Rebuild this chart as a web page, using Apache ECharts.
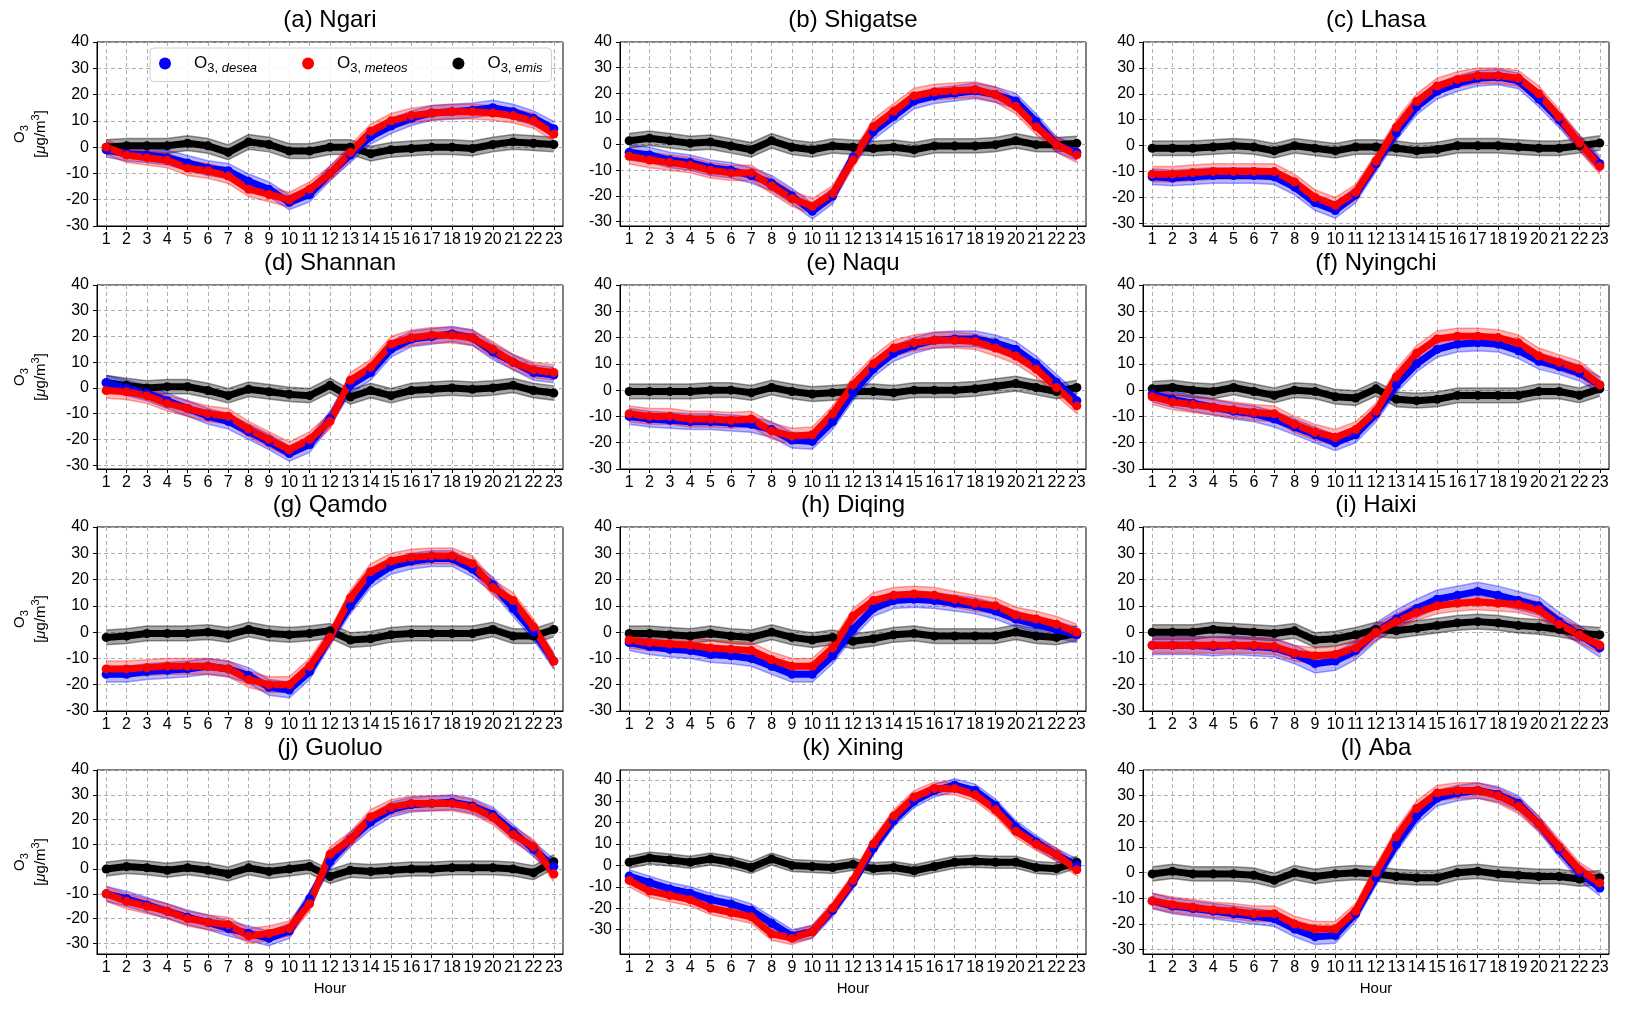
<!DOCTYPE html>
<html>
<head>
<meta charset="utf-8">
<script src="https://cdn.jsdelivr.net/npm/echarts@6/dist/echarts.min.js"></script>
<style>
html,body{margin:0;padding:0;background:#fff;}
#chart{width:1625px;height:1011px;}
</style>
</head>
<body>
<div id="chart"></div>
<script>
// ---------------- DATA ----------------
const HOURS = [1,2,3,4,5,6,7,8,9,10,11,12,13,14,15,16,17,18,19,20,21,22,23];
const Y_TICKS = [-30,-20,-10,0,10,20,30,40];
const TITLES = ['(a) Ngari','(b) Shigatse','(c) Lhasa','(d) Shannan','(e) Naqu','(f) Nyingchi',
                '(g) Qamdo','(h) Diqing','(i) Haixi','(j) Guoluo','(k) Xining','(l) Aba'];
const Y_MIN = [-30,-31.7,-31,-31.5,-30,-30,-30,-30,-30,-34.3,-41.4,-31.7];
const Y_MAX = [40,40,40,40,40,40,40,40,40,40,44.6,40];

const NGARI_DESEA  = [-1,-2.5,-3,-4,-6,-8,-9,-13,-16,-21,-18,-10,-3,4,8,11,13,13.5,14,15,13.5,11,7];
const NGARI_METEOS = [0,-3,-4,-5,-8,-9,-11,-16,-18,-20,-16,-10,-2,6,10,12,13,13.5,13.5,13,12,10,5];
const NGARI_EMIS   = [0,0.5,0.5,0.5,1.5,0.5,-2,2,1,-1.5,-1.5,0,0,-2.5,-1,-0.5,0,0,-0.5,1,2,1.5,1];

const SHIGATSE_DESEA  = [-3,-4,-6,-7,-9,-10,-12,-15,-20,-26,-20,-5,5,11,17,19,20,21,19.5,17,9,0,-3];
const SHIGATSE_METEOS = [-4.5,-6,-7,-8,-10,-11,-11,-16,-21,-24,-19,-6,7,13,19,20.5,21,21.5,19.5,15,7,0,-4];
const SHIGATSE_EMIS   = [1.5,2.5,1.5,0.5,1,-0.5,-2,1.5,-1,-2,-0.5,-1,-1.5,-1,-2,-0.5,-0.5,-0.5,0,1.5,0,0,0.5];

const LHASA_DESEA  = [-12,-12.5,-12,-11.5,-11.5,-11.5,-12,-16,-22,-25,-19,-7,5,15,21,24,26,26.5,25,18,10,1,-7];
const LHASA_METEOS = [-11,-11,-10.5,-10,-10,-10,-10,-14,-20,-23,-18,-6,7,17,23,25.5,27,27,26,20,11,1,-8];
const LHASA_EMIS   = [-1,-1,-1,-0.5,0,-0.5,-2,0,-1,-2,-0.5,-0.5,-1,-2,-1.5,0,0,0,-0.5,-1,-1,0,1];

const SHANNAN_DESEA  = [2,0,-2,-5,-8,-11,-13,-17,-21,-25.5,-22,-12,1,6,15,19,20,21,19.5,14,10,6,5];
const SHANNAN_METEOS = [-1,-1.5,-3,-6,-8,-10,-11,-16,-20,-24,-20,-13,3,8,17,19.5,20.5,20.5,19.5,15,10,7,6];
const SHANNAN_EMIS   = [2,1,0,0.5,0.5,-1,-3,-0.5,-1.5,-2.5,-3,1,-3.5,-1,-3,-1,-0.5,0,-0.5,0,1,-1,-2];

const NAQU_DESEA  = [-10,-11,-11.5,-12,-12,-12.5,-13,-15,-19,-19.5,-12,-1,8,14,17,19,19.5,19.5,18,15.5,10,3,-4];
const NAQU_METEOS = [-9,-10,-10,-11,-11,-11.5,-11,-15.5,-17.5,-17,-9,2,10,16,18,19,19,18.5,16,13,8,1,-6];
const NAQU_EMIS   = [-0.5,-0.5,-0.5,-0.5,0,0,-1,1,-0.5,-1.5,-1,-0.5,-0.5,-1,0,0,0,0.5,1.5,2.5,1,-0.5,1];

const NYINGCHI_DESEA  = [-1.5,-3.5,-5,-6.5,-8,-9,-11,-14,-17,-20,-17,-9,2,10,15.5,17.5,18,17.5,15,11,9,6.5,2];
const NYINGCHI_METEOS = [-2.5,-4.5,-5.5,-6.5,-7.5,-8.5,-9,-13,-16,-18,-15,-8,5,14,19.5,20.5,20.5,20,18,13,10.5,8,2];
const NYINGCHI_EMIS   = [0.5,1,0,-0.5,1,-0.5,-2,0,-0.5,-2.5,-3,0.5,-3.5,-4,-3.5,-2,-2,-2,-2,-0.5,-0.5,-2,0.5];

const QAMDO_DESEA  = [-16,-16,-15,-14.5,-14,-13,-14,-16.5,-21,-22,-15,-2,10,20,25,27,28,28,24,18,9,0,-11];
const QAMDO_METEOS = [-14,-14,-13.5,-13,-13,-13,-14,-18,-20,-20,-13,-2,13,23,27,28.5,29,29,26,17,12,2,-11];
const QAMDO_EMIS   = [-2,-1.5,-0.5,-0.5,-0.5,0,-1,1,-0.5,-1,-0.5,0.5,-3,-2.5,-1,-0.5,-0.5,-0.5,-0.5,1,-1.5,-1.5,1];

const DIQING_DESEA  = [-4,-5.5,-6.5,-7,-8.5,-9,-10,-13,-16,-16,-9,1,9,12,12.5,12,11,10,8,5,3,1,-1];
const DIQING_METEOS = [-3,-4,-4.5,-5,-6,-6.5,-7,-10.5,-13,-13,-6,6,12,14,14.5,14,12.5,11,10,6.5,5,3,0];
const DIQING_EMIS   = [-0.5,-0.5,-1,-1.5,-0.5,-1.5,-2,0,-2,-3,-2,-3.5,-2.5,-1,-0.5,-1.5,-1.5,-1.5,-1.5,0,-1.5,-2,-0.5];

const HAIXI_DESEA  = [-5,-5,-5,-5.5,-5,-5.5,-6,-8.5,-12,-11,-7,0,5,9,12.5,14,15.5,14,12,10,4,-1,-6];
const HAIXI_METEOS = [-5,-5,-5,-5,-5,-5,-5.5,-8,-9,-8.5,-6,0,4,7.5,10,11,11.5,11,10.5,8.5,3,-1,-5];
const HAIXI_EMIS   = [0,0,0,1,0.5,0,-0.5,0.5,-3,-2.5,-1,1,0.5,1.5,2.5,3.5,4,3.5,2.5,2,1,-0.5,-1];

const GUOLUO_DESEA  = [-10,-12,-14.5,-17,-19.5,-21.5,-24,-26,-28,-25,-12,3,12,19,24,26,26.5,27,25.5,22,15,8,1];
const GUOLUO_METEOS = [-10,-13,-15,-17,-20,-21.5,-22.5,-27,-26,-24,-14,6,12,21,25,26.5,26.5,26.5,25,21,14,9,-2];
const GUOLUO_EMIS   = [0,1,0.5,-0.5,0.5,-0.5,-2,0.5,-1,0,1,-3,-0.5,-1,-0.5,0,0,0.5,0.5,0.5,0,-1.5,3];

const XINING_DESEA  = [-5,-8,-11,-13,-16,-18,-21,-27,-33,-31,-21,-8,8,21,30,35,37.5,35,28,18,11,5,0];
const XINING_METEOS = [-7,-12,-14,-16,-20,-22,-24,-32,-34,-31,-20,-7,10,23,32,36,36,33,26,16,10,5,-2];
const XINING_EMIS   = [1.5,3.5,2.5,1.5,3,1.5,-1,3,0,-0.5,-1,0.5,-1.5,-1,-2.5,-0.5,1.5,2,1.5,1.5,-1,-1.5,1.5];

const ABA_DESEA  = [-11,-13,-14,-15,-16,-17,-18,-22,-25,-24.5,-16,-2,11,22,29,31,32,30.5,27,19,9,0,-6];
const ABA_METEOS = [-11,-12.5,-13.5,-14.5,-15,-16,-16,-20,-22,-22,-15,0,14,25,31,32,32,30,26,19,10,1,-4];
const ABA_EMIS   = [-0.5,0.5,-0.5,-0.5,-0.5,-1,-3,0,-1.5,-0.5,0,-0.5,-1.5,-2,-2,0,0.5,-0.5,-1,-1.5,-1.5,-2.5,-2];

// half-width of the shaded uncertainty band, per panel
const BAND_DESEA  = [2.8,3,3,3,3,3,3,3,3.5,3,3,3];
const BAND_METEOS = [2.8,3,3,3,3,3,3,3,3,3,3,3];
const BAND_EMIS   = [2.8,2.8,2.8,2.8,2.8,2.8,2.8,2.8,2.8,2.8,2.8,2.8];

// ---------------- BUILD ----------------
const DESEA = [NGARI_DESEA,SHIGATSE_DESEA,LHASA_DESEA,SHANNAN_DESEA,NAQU_DESEA,NYINGCHI_DESEA,
               QAMDO_DESEA,DIQING_DESEA,HAIXI_DESEA,GUOLUO_DESEA,XINING_DESEA,ABA_DESEA];
const METEOS = [NGARI_METEOS,SHIGATSE_METEOS,LHASA_METEOS,SHANNAN_METEOS,NAQU_METEOS,NYINGCHI_METEOS,
                QAMDO_METEOS,DIQING_METEOS,HAIXI_METEOS,GUOLUO_METEOS,XINING_METEOS,ABA_METEOS];
const EMIS = [NGARI_EMIS,SHIGATSE_EMIS,LHASA_EMIS,SHANNAN_EMIS,NAQU_EMIS,NYINGCHI_EMIS,
              QAMDO_EMIS,DIQING_EMIS,HAIXI_EMIS,GUOLUO_EMIS,XINING_EMIS,ABA_EMIS];

const FONT = "'Liberation Sans', Arial, sans-serif";
const COL_LEFT = [97, 620, 1143];
const ROW_TOP = [42, 285, 527, 770];
const GW = 466, GH = 184;

const KINDS = [
  {key:'desea',  vals:DESEA,  band:BAND_DESEA,  color:'#0000ff', edge:'rgba(0,0,255,0.35)', fill:'rgba(0,0,255,0.28)'},
  {key:'meteos', vals:METEOS, band:BAND_METEOS, color:'#ff0000', edge:'rgba(255,0,0,0.35)', fill:'rgba(255,0,0,0.28)'},
  {key:'emis',   vals:EMIS,   band:BAND_EMIS,   color:'#000000', edge:'rgba(0,0,0,0.40)',   fill:'rgba(0,0,0,0.35)'}
];

const grids = [], xAxes = [], yAxes = [], titles = [], bandSeries = [], lineSeries = [];
const dashed = {type:[4,3], color:'#b0b0b0', width:1};

function makeBand(i, k) {
  const v = k.vals[i], hw = k.band[i];
  const data = HOURS.map(function(h, j){ return [h, v[j] - hw, v[j] + hw]; });
  return {
    type:'custom', name:k.key + '_band', xAxisIndex:i, yAxisIndex:i, silent:true, z:2,
    encode:{x:0, y:[1,2]},
    data:data,
    renderItem:function(params, api){
      if (params.dataIndex !== 0) return null;
      const lo = [], hi = [];
      for (let j = 0; j < data.length; j++) {
        lo.push(api.coord([data[j][0], data[j][1]]));
        hi.push(api.coord([data[j][0], data[j][2]]));
      }
      return {type:'group', children:[
        {type:'polygon', shape:{points:lo.concat(hi.slice().reverse())}, style:{fill:k.fill, stroke:null}},
        {type:'polyline', shape:{points:lo}, style:{stroke:k.edge, lineWidth:1.5, fill:null}},
        {type:'polyline', shape:{points:hi}, style:{stroke:k.edge, lineWidth:1.5, fill:null}}
      ]};
    }
  };
}

for (let i = 0; i < 12; i++) {
  const col = i % 3, row = Math.floor(i / 3);
  const left = COL_LEFT[col], top = ROW_TOP[row];
  grids.push({left:left, top:top, width:GW, height:GH, show:true, borderColor:'#000', borderWidth:1, containLabel:false});
  titles.push({text:TITLES[i], left:left + GW/2, top:top - 34, textAlign:'center', padding:0,
               textStyle:{fontSize:24, fontWeight:'normal', color:'#000', fontFamily:FONT}});
  xAxes.push({
    type:'value', gridIndex:i, min:0.55, max:23.45,
    axisLine:{show:true, onZero:false, lineStyle:{color:'#000', width:1}},
    axisTick:{show:true, customValues:HOURS, length:4, lineStyle:{color:'#000'}},
    axisLabel:{customValues:HOURS, fontSize:16, color:'#000', margin:6, fontFamily:FONT},
    splitLine:{show:true, lineStyle:dashed},
    name: row === 3 ? 'Hour' : '', nameLocation:'middle', nameGap:27,
    nameTextStyle:{fontSize:15, color:'#000', fontFamily:FONT}
  });
  yAxes.push({
    type:'value', gridIndex:i, min:Y_MIN[i], max:Y_MAX[i],
    axisLine:{show:true, onZero:false, lineStyle:{color:'#000', width:1}},
    axisTick:{show:true, customValues:Y_TICKS, length:4, lineStyle:{color:'#000'}},
    axisLabel:{customValues:Y_TICKS, fontSize:16, color:'#000', margin:8, fontFamily:FONT},
    splitLine:{show:true, lineStyle:dashed},
    name: col === 0 ? '{o|O}{s|3}\n{o|[}{mu|μ}{o|g/m}{p|3}{o|]}' : '',
    nameLocation:'middle', nameGap:46, nameRotate:90,
    nameTextStyle:{fontFamily:FONT, color:'#000', rich:{
      o:{fontSize:15, lineHeight:21, color:'#000', fontFamily:FONT},
      mu:{fontSize:15, lineHeight:21, fontStyle:'italic', color:'#000', fontFamily:FONT},
      s:{fontSize:11, lineHeight:11, verticalAlign:'bottom', color:'#000', fontFamily:FONT},
      p:{fontSize:11, lineHeight:11, verticalAlign:'top', color:'#000', fontFamily:FONT}
    }}
  });

  // bands first: emis (grey), desea (blue), meteos (red)
  [KINDS[2], KINDS[0], KINDS[1]].forEach(function(k){ bandSeries.push(makeBand(i, k)); });
  // lines on top: emis, desea, meteos
  [KINDS[2], KINDS[0], KINDS[1]].forEach(function(k){
    const v = k.vals[i];
    lineSeries.push({
      type:'line', name:k.key, xAxisIndex:i, yAxisIndex:i,
      data: HOURS.map(function(h, j){ return [h, v[j]]; }),
      symbol:'circle', symbolSize:9, showSymbol:true,
      lineStyle:{color:k.color, width:7}, itemStyle:{color:k.color}, z:3
    });
  });
}

const legend = {
  data:['desea','meteos','emis'],
  left:150, top:48, orient:'horizontal',
  icon:'circle', itemWidth:24, itemHeight:12, itemGap:45,
  padding:[7,9], backgroundColor:'rgba(255,255,255,0.85)', borderColor:'#d0d0d0', borderWidth:1, borderRadius:4,
  formatter:function(name){ return '{o|O}{s|3, }{i|' + name + '}'; },
  textStyle:{padding:[0,0,0,12], rich:{
    o:{fontSize:17, lineHeight:22, color:'#000', fontFamily:FONT},
    s:{fontSize:13, lineHeight:13, verticalAlign:'bottom', color:'#000', fontFamily:FONT},
    i:{fontSize:13, lineHeight:13, verticalAlign:'bottom', fontStyle:'italic', color:'#000', fontFamily:FONT}
  }}
};

const chart = echarts.init(document.getElementById('chart'), null, {renderer:'canvas'});
chart.setOption({
  backgroundColor:'#fff',
  animation:false,
  textStyle:{fontFamily:FONT},
  title:titles,
  legend:legend,
  grid:grids,
  xAxis:xAxes,
  yAxis:yAxes,
  series:bandSeries.concat(lineSeries)
});
</script>
</body>
</html>
